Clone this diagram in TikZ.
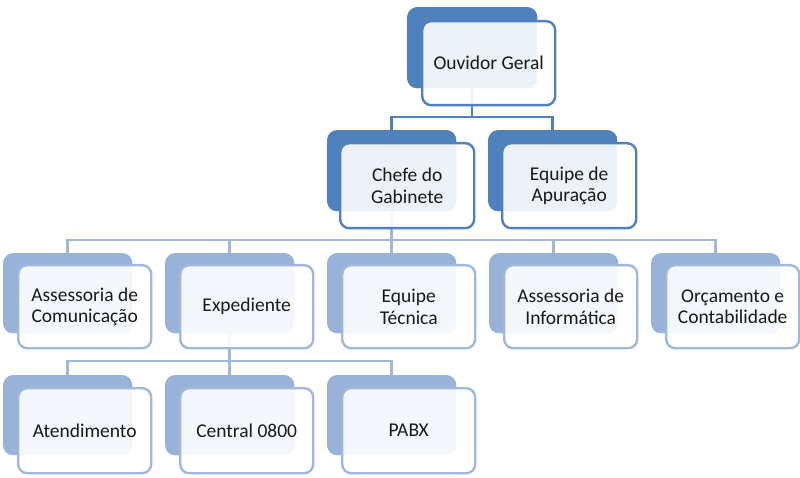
\documentclass[tikz,border=0pt]{standalone}
\usepackage{fontspec}
\setmainfont{Carlito}
\definecolor{dkblue}{RGB}{79,129,189}
\definecolor{ltblue}{RGB}{152,178,216}
\definecolor{ltline}{RGB}{160,184,219}
\begin{document}
\begin{tikzpicture}[x=1pt,y=-1pt,
  backbox/.style={draw=none,rounded corners=10pt,minimum width=129pt,minimum height=81pt,anchor=north west,inner sep=0pt},
  dkback/.style={backbox,fill=dkblue},
  ltback/.style={backbox,fill=ltblue},
  frontbox/.style={rounded corners=9pt,minimum width=133pt,minimum height=84pt,anchor=north west,inner sep=0pt,
    fill=white,fill opacity=0.9,text opacity=1,line width=2.4pt,
    font=\fontsize{19.5}{21.5}\selectfont,align=center,text=black!90},
  dkfront/.style={frontbox,draw=dkblue},
  ltfront/.style={frontbox,draw=ltline},
  dkconn/.style={draw=dkblue,line width=2.5pt},
  ltconn/.style={draw=ltline,line width=2.8pt}
]
\useasboundingbox (0,0) rectangle (800,478);
% coordinates of bars
\coordinate (bar1) at (472,117);
\coordinate (bar2) at (391,240);
\coordinate (bar3) at (229,361);
% back boxes
\node[dkback,minimum width=130pt] (ogB) at (407,7) {};
\node[dkback] (chB) at (327,130) {};
\node[dkback] (eaB) at (488,130) {};
\node[ltback,minimum height=80pt] (acB) at (3,253) {};
\node[ltback,minimum height=80pt] (exB) at (165,253) {};
\node[ltback,minimum height=80pt] (etB) at (327,253) {};
\node[ltback,minimum height=80pt] (aiB) at (489,253) {};
\node[ltback,minimum height=80pt] (ocB) at (651,253) {};
\node[ltback,minimum height=80pt] (atB) at (3,375) {};
\node[ltback,minimum height=80pt] (c8B) at (165,375) {};
\node[ltback,minimum height=80pt] (pbB) at (327,375) {};
% connectors
\path[dkconn] (ogB.south) -- (ogB.south |- bar1) -| (chB.north);
\path[dkconn] (ogB.south |- bar1) -| (eaB.north);
\foreach \c in {acB,exB,etB,aiB,ocB}{
  \path[ltconn] (chB.south) -- (chB.south |- bar2) -| (\c.north);
}
\foreach \c in {atB,c8B,pbB}{
  \path[ltconn] (exB.south) -- (exB.south |- bar3) -| (\c.north);
}
% redraw backs over connectors
\node[dkback,minimum width=130pt] at (407,7) {};
\node[dkback] at (327,130) {};
\node[dkback] at (488,130) {};
\foreach \x/\y in {3/253,165/253,327/253,489/253,651/253,3/375,165/375,327/375}{
  \node[ltback,minimum height=80pt] at (\x,\y) {};
}
% front boxes
\node[dkfront] (og) at (421,20) {Ouvidor Geral};
\node[dkfront,minimum width=134pt,minimum height=85pt] (ch) at (339,142) {Chefe do\\Gabinete};
\node[dkfront,minimum width=134pt,minimum height=85pt] (ea) at (501,142) {Equipe de\\Apuração};
\node[ltfront,minimum height=83pt] (ac) at (17,264) {Assessoria de\\Comunicação};
\node[ltfront,minimum height=83pt] (ex) at (179,264) {Expediente};
\node[ltfront,minimum height=83pt] (et) at (341,264) {Equipe\\Técnica};
\node[ltfront,minimum height=83pt] (ai) at (503,264) {Assessoria de\\Informática};
\node[ltfront,minimum height=83pt] (oc) at (665,264) {Orçamento e\\Contabilidade};
\node[ltfront,minimum height=85pt] (at) at (17,387) {Atendimento};
\node[ltfront,minimum height=85pt] (c8) at (179,387) {Central 0800};
\node[ltfront,minimum height=85pt] (pb) at (341,387) {PABX};
\end{tikzpicture}
\end{document}
